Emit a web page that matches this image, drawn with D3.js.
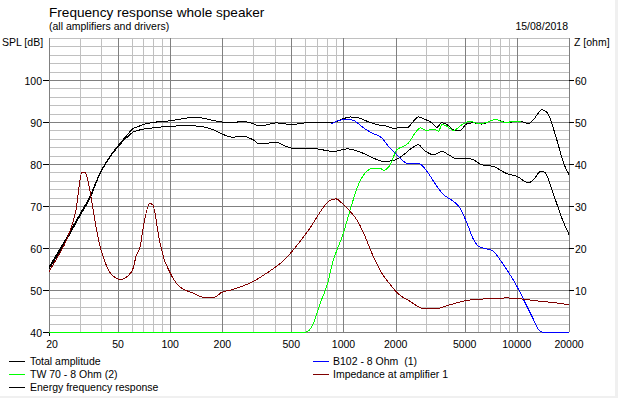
<!DOCTYPE html>
<html><head><meta charset="utf-8">
<script src="https://cdn.jsdelivr.net/npm/d3@7"></script>
<style>
html,body{margin:0;padding:0;background:#fff;}
svg{display:block;}
text{font-family:"Liberation Sans",Arial,sans-serif;fill:#000;white-space:pre;}
</style></head>
<body>
<svg id="c" width="618" height="398"></svg>
<script>
// ---- data ----
const freqTicks = [20, 50, 100, 200, 500, 1000, 2000, 5000, 10000, 20000];
const splTicks = [40, 50, 60, 70, 80, 90, 100];
const zTicks = [10, 20, 30, 40, 50, 60];

const totalAmplitude = [[20,55.4],[25.3,62.5],[30.2,68.1],[34.6,72.4],[39,77.5],[44.9,81.8],[50,84.3],[56.2,86.8],[61,88.4],[65.4,88.9],[69.6,89.4],[80,89.9],[100,90.3],[115,90.7],[129,91],[147,91],[176,90.4],[200,90],[229,89.8],[262,90.2],[300,89.6],[327,89.1],[360,89.3],[408,89.8],[450,89.6],[500,89.4],[562,89.6],[626,89.9],[702,89.9],[801,89.8],[876,89.9],[1000,90.8],[1093,91.2],[1220,91],[1363,90.2],[1557,89.4],[1778,89],[1986,88.4],[2122,88.8],[2320,88.6],[2535,90.2],[2706,91.2],[2959,90.6],[3236,89.8],[3455,88.7],[3690,89.8],[3945,89.4],[4410,88],[4710,88],[5150,89.6],[5630,89.8],[6280,89.5],[7500,90.6],[8770,89.9],[10470,90.2],[11700,89.6],[12500,90.6],[13970,92.9],[14920,92.3],[17000,85.8],[18620,80.2],[20000,77.5]];

const energyResponse = [[20,55.0],[25.3,62.0],[30.2,67.7],[34.6,72.0],[39,77.3],[44.9,81.6],[50,84.1],[56.2,86.3],[61,87.6],[65.4,88.0],[69.6,88.3],[80,88.6],[100,89],[129,89.1],[147,89],[176,88.2],[200,87.1],[229,86.4],[262,86.6],[300,85.8],[327,84.8],[370,85],[408,85.2],[450,84.5],[500,83.8],[562,83.8],[702,83.6],[876,83],[1045,83.6],[1220,83],[1490,81.4],[1700,80.6],[1940,80.8],[2220,82.2],[2480,83.8],[2706,84.6],[2900,83.4],[3310,82.2],[3690,83],[4040,82.2],[4510,81.2],[5150,81.4],[5630,81],[6280,79.8],[7340,79.4],[8770,77.7],[10000,77.1],[11680,75.5],[12500,76.3],[13800,78.3],[14600,77.9],[16300,72.7],[18200,67.1],[20000,63.2]];

const wooferB102 = [[845,89.5],[915,90.2],[1045,90.7],[1140,90.4],[1305,88.6],[1457,87.4],[1664,86.2],[1818,84.2],[2030,82.2],[2320,80.2],[2500,80.1],[2706,80.2],[3025,78.3],[3455,74.7],[3780,72.7],[4310,71.1],[4700,69.5],[5150,66],[5630,62],[6010,60.4],[6700,59.8],[7340,59.2],[8000,57.2],[8770,54.8],[10000,50.9],[11440,46.1],[12500,42.9],[13300,40.6],[13980,40],[20000,40]];

const tweeterTW70 = [[20,40],[610,40],[671,42.1],[734,46.9],[801,50.9],[875,57.2],[935,60.4],[1000,63.6],[1093,69.1],[1220,75.1],[1363,78.3],[1490,79],[1630,79],[1700,78.5],[1860,79.8],[2030,83.4],[2220,84.2],[2370,85],[2590,87.4],[2770,88.6],[3025,88],[3310,88.3],[3540,87.8],[3690,89.4],[3945,89],[4310,88],[4920,89.6],[5390,90.2],[6010,89.6],[6700,89.9],[7500,90.6],[8570,89.9],[10000,90.2],[10500,90.1]];

const impedance = [[20,14.4],[22.5,18],[25.3,22],[28.6,29],[31,38],[32.4,37.9],[34.9,32.3],[37,26],[39,21.2],[41.1,17.9],[44.6,14.4],[48,13],[52,12.5],[54.6,12.8],[56.9,13.3],[61.2,15.2],[63.5,18],[67.3,20.5],[69.6,24.4],[76.5,30.6],[79.3,30.3],[86.6,22],[92,17.5],[98,14.8],[112.5,10.9],[135,9.3],[154,8.3],[180,8.3],[197.5,9.4],[229,10.1],[300,12],[360,14],[445,16.8],[520,19.8],[581,22.4],[642,24.8],[726,28.3],[820,31.1],[907,31.7],[978,30.7],[1093,28.7],[1194,26.7],[1305,23.6],[1457,18.8],[1664,14],[1860,11.3],[2030,9.4],[2420,7.3],[2900,5.6],[3455,5.6],[4120,6.5],[5150,7.5],[6700,7.9],[8770,8.1],[10470,7.9],[12500,7.5],[15500,7.1],[20000,6.5]];

const legendLeft = ["Total amplitude", "TW 70 - 8 Ohm (2)", "Energy frequency response"];
const legendRight = ["B102 - 8 Ohm  (1)", "Impedance at amplifier 1"];

// ---- layout ----
const L = 49, R = 569, T = 38, B = 332;
const svg = d3.select("#c");
const x = d3.scaleLog().domain([20, 20000]).range([L, R]);
const y = d3.scaleLinear().domain([40, 110]).range([B, T]);
const yz = d3.scaleLinear().domain([0, 70]).range([B, T]);

// window frame
svg.append("rect").attr("x",0).attr("y",0).attr("width",618).attr("height",398).attr("fill","#fff");
svg.append("rect").attr("x",615).attr("y",0).attr("width",3).attr("height",398).attr("fill","#f0f0f0");
svg.append("rect").attr("x",0).attr("y",396).attr("width",618).attr("height",2).attr("fill","#f0f0f0");

const minor = "#c0c0c0", major = "#808080";
const g = svg.append("g").attr("shape-rendering","crispEdges");
// horizontal grid every 2 dB
const hLevels = d3.range(40, 111, 2);
hLevels.filter(v => !(v % 10 === 0 && v <= 100)).forEach(v => {
  const yy = Math.round(y(v)) + 0.5;
  g.append("line").attr("x1",L).attr("x2",R).attr("y1",yy).attr("y2",yy).attr("stroke",minor);
});
// vertical grid
const vLevels = [];
[10,100,1000,10000].forEach(d => { for (let k=1;k<10;k++){ const f=d*k; if(f>=20 && f<=20000) vLevels.push(f);} });
vLevels.push(20000);
const isMajor = f => freqTicks.includes(f);
vLevels.filter(f => !isMajor(f)).forEach(f => {
  const xx = Math.round(x(f)) + 0.5;
  g.append("line").attr("x1",xx).attr("x2",xx).attr("y1",T).attr("y2",B).attr("stroke",minor);
});
vLevels.filter(isMajor).forEach(f => {
  const xx = Math.round(x(f)) + 0.5;
  g.append("line").attr("x1",xx).attr("x2",xx).attr("y1",T).attr("y2",B).attr("stroke",major);
});
hLevels.filter(v => v % 10 === 0 && v <= 100).forEach(v => {
  const yy = Math.round(y(v)) + 0.5;
  g.append("line").attr("x1",L).attr("x2",R).attr("y1",yy).attr("y2",yy).attr("stroke",major);
});

// ticks and labels
const fs = "10.5px";
splTicks.forEach(v => {
  const yy = Math.round(y(v)) + 0.5;
  g.append("line").attr("x1",L-6).attr("x2",L).attr("y1",yy).attr("y2",yy).attr("stroke","#000");
  svg.append("text").attr("x",L-7).attr("y",yy+4).attr("text-anchor","end").style("font-size",fs).text(v);
});
g.append("line").attr("x1",L+0.5).attr("x2",L+0.5).attr("y1",B).attr("y2",B+4).attr("stroke","#000");
zTicks.forEach(v => {
  const yy = Math.round(yz(v)) + 0.5;
  g.append("line").attr("x1",R).attr("x2",R+5).attr("y1",yy).attr("y2",yy).attr("stroke","#000");
  svg.append("text").attr("x",R+6).attr("y",yy+4).attr("text-anchor","start").style("font-size",fs).text(v);
});
freqTicks.forEach((f,i) => {
  svg.append("text").attr("x",x(f)+(i===0?3:0)).attr("y",348).attr("text-anchor","middle").style("font-size",fs).text(f);
});

// titles
svg.append("text").attr("x",49).attr("y",17).style("font-size","13.6px").text("Frequency response whole speaker");
svg.append("text").attr("x",49).attr("y",30).style("font-size",fs).text("(all amplifiers and drivers)");
svg.append("text").attr("x",568).attr("y",30).attr("text-anchor","end").style("font-size",fs).text("15/08/2018");
svg.append("text").attr("x",2).attr("y",46).style("font-size",fs).text("SPL [dB]");
svg.append("text").attr("x",574).attr("y",46).style("font-size",fs).text("Z [ohm]");

// curves
const lineDb = d3.line().x(d => x(d[0])).y(d => y(d[1])).curve(d3.curveMonotoneX);
const lineZ = d3.line().x(d => x(d[0])).y(d => yz(d[1])).curve(d3.curveMonotoneX);
const curves = svg.append("g").attr("fill","none").attr("stroke-width",1).attr("shape-rendering","crispEdges");
curves.append("path").attr("d", lineDb(energyResponse)).attr("stroke","#000");
curves.append("path").attr("d", lineDb(totalAmplitude)).attr("stroke","#000");
curves.append("path").attr("d", lineDb(wooferB102)).attr("stroke","#0000ff");
curves.append("path").attr("d", lineDb(tweeterTW70)).attr("stroke","#00ff00");
curves.append("path").attr("d", lineZ(impedance)).attr("stroke","#800000");

// legend
const legColorsL = ["#000","#00ff00","#000"];
const legColorsR = ["#0000ff","#800000"];
legendLeft.forEach((t,i) => {
  const yy = 361.5 + i*13;
  g.append("line").attr("x1",9).attr("x2",25).attr("y1",yy).attr("y2",yy).attr("stroke",legColorsL[i]);
  svg.append("text").attr("x",30).attr("y",yy+3.5).style("font-size",fs).text(t);
});
legendRight.forEach((t,i) => {
  const yy = 361.5 + i*13;
  g.append("line").attr("x1",313).attr("x2",329).attr("y1",yy).attr("y2",yy).attr("stroke",legColorsR[i]);
  svg.append("text").attr("x",333).attr("y",yy+3.5).style("font-size",fs).text(t);
});
</script>
</body></html>
